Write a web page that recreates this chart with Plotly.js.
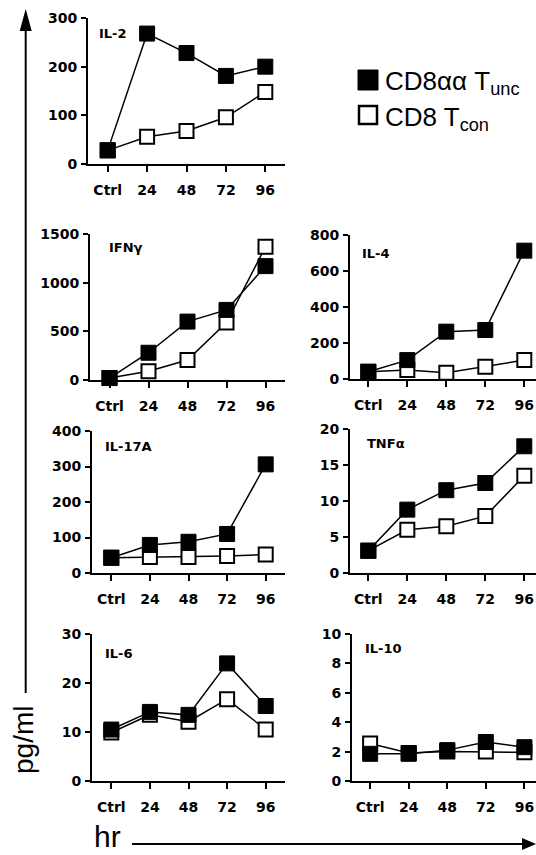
<!DOCTYPE html>
<html>
<head>
<meta charset="utf-8">
<script src="https://cdn.plot.ly/plotly-3.0.1.min.js"></script>
<style>html,body{margin:0;padding:0;background:#fff;}#chart{width:536px;height:855px;}</style>
</head>
<body>
<div id="chart"></div>
<script>
// ---- data ----
const times = ['Ctrl', '24', '48', '72', '96'];
const seriesNames = ['CD8αα T<sub>unc</sub>', 'CD8 T<sub>con</sub>'];
const cytokines = ['IL-2', 'IFNγ', 'IL-4', 'IL-17A', 'TNFα', 'IL-6', 'IL-10'];
const il2Unc = [28, 268, 228, 181, 200];
const il2Con = [28, 56, 68, 96, 148];
const ifngUnc = [20, 280, 600, 720, 1170];
const ifngCon = [20, 90, 205, 590, 1370];
const il4Unc = [40, 105, 263, 272, 713];
const il4Con = [40, 50, 35, 68, 105];
const il17Unc = [43, 79, 88, 110, 306];
const il17Con = [43, 45, 45, 48, 52];
const tnfUnc = [3.1, 8.8, 11.5, 12.5, 17.6];
const tnfCon = [3.1, 6.0, 6.5, 7.9, 13.5];
const il6Unc = [10.5, 14.1, 13.5, 24.0, 15.3];
const il6Con = [9.9, 13.5, 12.1, 16.7, 10.5];
const il10Unc = [1.85, 1.85, 2.1, 2.65, 2.3];
const il10Con = [2.55, 1.9, 2.0, 2.0, 1.95];
const yMax = [300, 1500, 800, 400, 20, 30, 10];
const yStep = [100, 500, 200, 100, 5, 10, 2];

const uncData = [il2Unc, ifngUnc, il4Unc, il17Unc, tnfUnc, il6Unc, il10Unc];
const conData = [il2Con, ifngCon, il4Con, il17Con, tnfCon, il6Con, il10Con];

// ---- layout geometry (pixels) ----
const W = 536, H = 855;
const px = v => v / W;
const py = v => 1 - v / H;
// [left, right, top, bottom, xRangeStart, xRangeEnd, titleX, titleY]
const boxes = [
  [88, 285, 18, 164, -0.5, 4.5, 97, 33],
  [90, 285, 234, 380, -0.5, 4.5, 107, 248],
  [350, 536, 235, 379, -0.47, 4.3, 360, 253],
  [92, 285, 431, 573, -0.5, 4.5, 103, 447],
  [350, 536, 429, 573, -0.47, 4.3, 365, 444],
  [92, 285, 634, 781, -0.5, 4.5, 103, 653],
  [352, 536, 634, 781, -0.47, 4.3, 363, 648]
];

const FONT = 'Liberation Sans, Arial, sans-serif';
const BOLD = 'DejaVu Sans, Liberation Sans, sans-serif';
const tickFont = {family: BOLD, size: 14, color: '#000', weight: 'bold'};

const traces = [];
const layout = {
  width: W, height: H,
  margin: {l: 0, r: 0, t: 0, b: 0},
  paper_bgcolor: '#fff', plot_bgcolor: 'rgba(0,0,0,0)',
  showlegend: false,
  annotations: [],
  shapes: []
};

boxes.forEach((b, i) => {
  const n = i + 1;
  const xa = n === 1 ? 'x' : 'x' + n;
  const ya = n === 1 ? 'y' : 'y' + n;
  // open (CD8 Tcon) first so filled squares sit on top
  traces.push({
    x: times, y: conData[i], xaxis: xa, yaxis: ya,
    type: 'scatter', mode: 'lines+markers', name: seriesNames[1],
    cliponaxis: false,
    line: {color: '#000', width: 1.5},
    marker: {symbol: 'square', size: 14, color: '#fff', line: {color: '#000', width: 2}}
  });
  traces.push({
    x: times, y: uncData[i], xaxis: xa, yaxis: ya,
    type: 'scatter', mode: 'lines+markers', name: seriesNames[0],
    cliponaxis: false,
    line: {color: '#000', width: 1.5},
    marker: {symbol: 'square', size: 15, color: '#000', line: {color: '#000', width: 1}}
  });
  const tv = [];
  for (let v = 0; v <= yMax[i] + 1e-9; v += yStep[i]) tv.push(v);
  layout['xaxis' + (n === 1 ? '' : n)] = {
    domain: [px(b[0]), px(b[1])], anchor: ya, type: 'category',
    range: [b[4], b[5]], showline: true, linecolor: '#000', linewidth: 2,
    ticks: 'outside', ticklen: 6, tickwidth: 2, tickcolor: '#000',
    showgrid: false, zeroline: false, tickfont: tickFont, ticklabelstandoff: 6,
    fixedrange: true
  };
  layout['yaxis' + (n === 1 ? '' : n)] = {
    domain: [py(b[3]), py(b[2])], anchor: xa,
    range: [0, yMax[i]], tickvals: tv, showline: true, linecolor: '#000', linewidth: 2,
    ticks: 'outside', ticklen: 5, tickwidth: 2, tickcolor: '#000',
    showgrid: false, zeroline: false, tickfont: tickFont, ticklabelstandoff: 1,
    fixedrange: true
  };
  layout.annotations.push({
    xref: 'paper', yref: 'paper', x: px(b[6]), y: py(b[7]),
    xanchor: 'left', yanchor: 'middle', showarrow: false,
    text: cytokines[i], font: {family: BOLD, size: 13, color: '#000', weight: 'bold'}
  });
});

// legend (drawn as text + swatches)
const legFont = {family: FONT, size: 26, color: '#000'};
layout.annotations.push({
  xref: 'paper', yref: 'paper', x: px(383), y: py(82), xanchor: 'left', yanchor: 'middle',
  showarrow: false, text: seriesNames[0], font: legFont
});
layout.annotations.push({
  xref: 'paper', yref: 'paper', x: px(383), y: py(118), xanchor: 'left', yanchor: 'middle',
  showarrow: false, text: seriesNames[1], font: legFont
});
layout.shapes.push({type: 'rect', xref: 'paper', yref: 'paper',
  x0: px(358), x1: px(378), y0: py(90), y1: py(70), fillcolor: '#000', line: {color: '#000', width: 1}});
layout.shapes.push({type: 'rect', xref: 'paper', yref: 'paper',
  x0: px(359), x1: px(377), y0: py(124), y1: py(106), fillcolor: '#fff', line: {color: '#000', width: 2.5}});

// axis-direction arrows
layout.shapes.push({type: 'line', xref: 'paper', yref: 'paper',
  x0: px(25.7), x1: px(25.7), y0: py(28), y1: py(693), line: {color: '#000', width: 2}});
layout.shapes.push({type: 'path', xref: 'paper', yref: 'paper',
  path: `M ${px(19.7)},${py(31)} L ${px(25.7)},${py(9)} L ${px(31.7)},${py(31)} Z`,
  fillcolor: '#000', line: {color: '#000', width: 0}});
layout.shapes.push({type: 'line', xref: 'paper', yref: 'paper',
  x0: px(132), x1: px(526), y0: py(844), y1: py(844), line: {color: '#000', width: 2}});
layout.shapes.push({type: 'path', xref: 'paper', yref: 'paper',
  path: `M ${px(522)},${py(838)} L ${px(536)},${py(844)} L ${px(522)},${py(850)} Z`,
  fillcolor: '#000', line: {color: '#000', width: 0}});
layout.annotations.push({
  xref: 'paper', yref: 'paper', x: px(23), y: py(740), xanchor: 'center', yanchor: 'middle',
  showarrow: false, textangle: -90, text: 'pg/ml', font: {family: FONT, size: 28, color: '#000'}
});
layout.annotations.push({
  xref: 'paper', yref: 'paper', x: px(92), y: py(836), xanchor: 'left', yanchor: 'middle',
  showarrow: false, text: 'hr', font: {family: FONT, size: 30, color: '#000'}
});

Plotly.newPlot('chart', traces, layout, {displayModeBar: false, staticPlot: true});
</script>
</body>
</html>
